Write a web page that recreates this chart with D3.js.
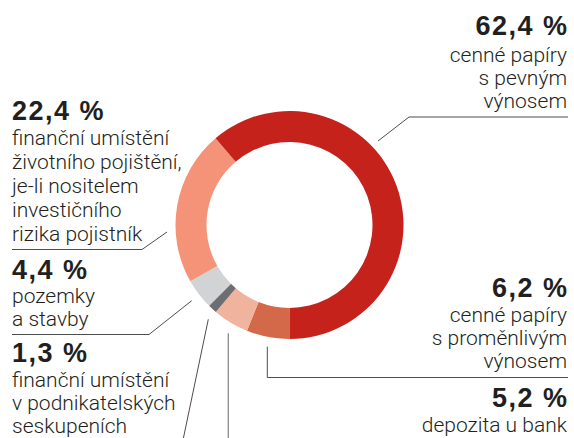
<!DOCTYPE html>
<html><head><meta charset="utf-8">
<script src="https://cdn.jsdelivr.net/npm/d3@7"></script>
<style>
html,body{margin:0;padding:0;background:#fff;}
svg{display:block;}
.pct{font-family:"Liberation Sans",Arial,sans-serif;font-weight:700;font-size:27px;fill:#231f20;letter-spacing:1.5px;}
.txt{font-family:Roboto,"Liberation Sans",sans-serif;font-weight:300;font-size:21px;fill:#231f20;}
</style>
</head><body>
<script>
// Data (clockwise from the bottom of the ring)
const categories = ["6,2 %", "5,2 %", "1,3 %", "4,4 %", "22,4 %", "62,4 %"];
const values = [6.2, 5.2, 1.3, 4.4, 22.4, 62.4];
const colors = ["#d4694a", "#f0b39d", "#6d6e71", "#d2d3d5", "#f59378", "#c5221c"];
const descriptions = [
  ["cenné papíry", "s proměnlivým", "výnosem"],
  ["depozita u bank"],
  ["finanční umístění", "v podnikatelských", "seskupeních"],
  ["pozemky", "a stavby"],
  ["finanční umístění", "životního pojištění,", "je-li nositelem", "investičního", "rizika pojistník"],
  ["cenné papíry", "s pevným", "výnosem"]
];

const W = 574, H = 438;
const svg = d3.select("body").append("svg").attr("width", W).attr("height", H);

const cx = 289.5, cy = 225, rOuter = 114, rInner = 83;
const pie = d3.pie().sort(null).value(d => d).startAngle(Math.PI).endAngle(3 * Math.PI);
const arc = d3.arc().innerRadius(rInner).outerRadius(rOuter);
const arcs = pie(values);

svg.append("g").attr("transform", `translate(${cx},${cy})`)
  .selectAll("path").data(arcs).join("path")
  .attr("d", arc).attr("fill", (d, i) => colors[i]);

// leader lines
const lineColor = "#4d4d4f";
const leaders = [
  [[378, 141], [409, 117], [568, 117]],           // 62,4
  [[167, 232], [142, 249.5], [12, 249.5]],        // 22,4
  [[191.7, 300.7], [149, 334.5], [12, 334.5]],    // 4,4
  [[208.3, 319.3], [183, 440]],                   // 1,3
  [[228.3, 333.3], [228.3, 440]],                 // below
  [[267.3, 346.7], [267.3, 377.5], [568, 377.5]]  // 6,2
];
const line = d3.line();
svg.append("g").selectAll("path").data(leaders).join("path")
  .attr("d", d => line(d)).attr("fill", "none")
  .attr("stroke", (d, i) => i === 4 ? "#8a8a8c" : lineColor)
  .attr("stroke-width", (d, i) => i === 4 ? 1.3 : 1);

// label layout: [index, anchor, x, pctBaseline, firstBodyBaseline, lineStep]
const layout = [
  [5, "end", 567, 35, 62, 23],
  [4, "start", 12, 120, 145, 24],
  [3, "start", 12, 279, 303, 23],
  [2, "start", 12, 362, 387, 23],
  [0, "end", 567, 297, 322, 23],
  [1, "end", 567, 407, 432, 23]
];
const g = svg.append("g");
layout.forEach(([i, anchor, x, pb, fb, step]) => {
  g.append("text").attr("class", "pct").attr("text-anchor", anchor)
    .attr("x", anchor === "end" ? x + 1.5 : x).attr("y", pb).text(categories[i]);
  descriptions[i].forEach((t, k) => {
    g.append("text").attr("class", "txt").attr("text-anchor", anchor)
      .attr("x", x).attr("y", fb + k * step).text(t);
  });
});
</script>
</body></html>
